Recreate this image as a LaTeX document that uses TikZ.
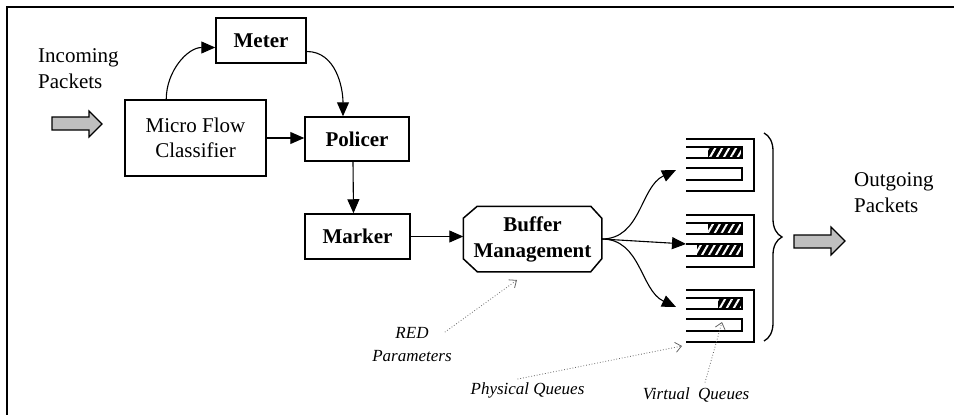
\documentclass[tikz,border=0pt]{standalone}
\usepackage{fontspec}
\setmainfont{Liberation Serif}
\usetikzlibrary{arrows.meta,calc,decorations.pathreplacing,patterns.meta}
\begin{document}
\begin{tikzpicture}[x=1pt,y=1pt,
  box/.style={draw,line width=1.5pt,inner sep=0pt,align=center,font=\fontsize{21}{26}\selectfont\bfseries},
  plainbox/.style={draw,line width=1.5pt,inner sep=0pt,align=center,font=\fontsize{21}{25}\selectfont},
  arr/.style={line width=1.1pt,-{Triangle[length=14pt,width=12pt]}},
  note/.style={draw=black!60,line width=0.8pt,dotted,-{Straight Barb[length=6pt,width=10pt]}},
  lbl/.style={font=\fontsize{17}{23}\selectfont\itshape,align=center,inner sep=0pt},
  big/.style={font=\fontsize{21}{26}\selectfont,align=left,inner sep=0pt},
  blk/.style={draw,line width=1.2pt,fill=black!25},
  qline/.style={line width=1.1pt},
  grp/.style={line width=1.6pt},
  hatch/.style={pattern={Lines[angle=60,distance=6pt,line width=2pt]},pattern color=white}
]
\useasboundingbox (0,0) rectangle (954,-415);
% frame
\draw[line width=2pt] (7,-415) -- (7,-7) -- (954,-7);

% texts
\node[big,anchor=west] (inc) at (38,-68.5) {Incoming\\Packets};
\node[big,anchor=west] (out) at (854,-192.5) {Outgoing\\Packets};

% block arrows
\draw[blk] (52,-117) -- (89,-117) -- (89,-111) -- (102,-124) -- (89,-137) -- (89,-130) -- (52,-130) -- cycle;
\draw[blk] (794,-235) -- (831,-235) -- (831,-227) -- (845,-241) -- (831,-255) -- (831,-248) -- (794,-248) -- cycle;

% boxes
\node[box,minimum width=90pt,minimum height=45pt] (meter) at (261,-40.5) {Meter};
\node[plainbox,minimum width=141pt,minimum height=76pt] (cls) at (195.5,-138) {Micro Flow\\Classifier};
\node[box,minimum width=104pt,minimum height=44pt] (pol) at (357,-139) {Policer};
\node[box,minimum width=105pt,minimum height=45pt] (mark) at (357.5,-236.5) {Marker};
\node[box,draw=none,minimum width=137pt,minimum height=64pt] (buf) at (532.5,-239) {Buffer\\Management};
\draw[line width=1.5pt] ($(buf.north west)+(14,0)$) -- ($(buf.north east)+(-11,0)$) -- ($(buf.north east)+(0,-12)$) -- ($(buf.south east)+(0,13)$) -- ($(buf.south east)+(-11,0)$) -- ($(buf.south west)+(14,0)$) -- ($(buf.south west)+(0,13)$) -- ($(buf.north west)+(0,-12)$) -- cycle;

% connectors
\draw[arr] ($(cls.north west)+(42,0)$) to[out=90,in=180] ($(meter.west)+(0,-7)$);
\draw[arr] ($(meter.east)+(0,-11)$) to[out=0,in=90] ($(pol.north)+(-14,0)$);
\draw[arr] (cls.east) -- (cls.east -| pol.west);
\draw[arr] ($(pol.south)+(-4,0)$) -- ($(mark.north)+(-4,0)$);
\draw[arr] (mark.east) -- (mark.east -| buf.west);

% queues
\foreach \t in {139,215,290}{
  \draw[grp] (686,-\t) -- (754,-\t) -- (754,{-\t-52}) -- (686,{-\t-52});
}
\foreach \t/\a/\b in {139/708/0,215/708/697,290/718/0}{
  \fill[black] (\a,{-\t-8}) rectangle (742,{-\t-19});
  \fill[hatch] (\a,{-\t-8}) rectangle (742,{-\t-19});
  \ifnum\b>0
    \fill[black] (\b,{-\t-29}) rectangle (742,{-\t-41});
    \fill[hatch] (\b,{-\t-29}) rectangle (742,{-\t-41});
  \fi
  \draw[qline] (686,{-\t-8}) -- (742,{-\t-8}) -- (742,{-\t-19}) -- (686,{-\t-19});
  \draw[qline] (686,{-\t-29}) -- (742,{-\t-29}) -- (742,{-\t-41}) -- (686,{-\t-41});
}
\coordinate (q1) at (676,-170);
\coordinate (q2) at (686,-244);
\coordinate (q3) at (676,-307);
\draw[arr] (buf.east) to[out=0,in=205] (q1);
\draw[arr] (buf.east) -- (q2);
\draw[arr] (buf.east) to[out=0,in=155] (q3);

% brace
\draw[line width=1.3pt,decorate,decoration={brace,amplitude=18pt}] (764,-133) -- (764,-341);

% annotations
\node[lbl] (red) at (412,-344.5) {RED\\Parameters};
\node[lbl] (phys) at (527.5,-390) {Physical Queues};
\node[lbl] (virt) at (696,-395) {Virtual\ \ Queues};
\coordinate (redT) at (517,-280);
\coordinate (physT) at (682,-346);
\coordinate (virtT) at (722,-322);
\draw[note] ($(red.north east)+(-7,-5)$) -- (redT);
\draw[note] ($(phys.north)+(-10,3)$) -- (physT);
\draw[note] ($(virt.north)+(9,5)$) -- (virtT);
\end{tikzpicture}
\end{document}
